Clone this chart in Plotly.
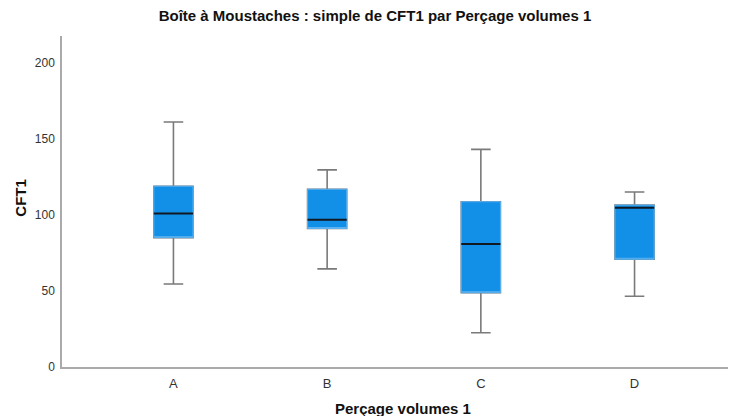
import plotly.graph_objects as go

categories = ["A", "B", "C", "D"]
lower = [54.5, 64.5, 22.5, 46.5]
q1 = [85, 91, 48.8, 70.8]
median = [100.8, 96.8, 80.8, 104.6]
q3 = [118.8, 116.8, 108.6, 106.4]
upper = [161, 129.5, 143, 115]

y_ticks = [0, 50, 100, 150, 200]

FILL = "#1290e8"
EDGE = "#5cb2f0"
WHISK = "#7a7a7a"
MED = "#111822"
BW = 0.255

# the page body has an 8px margin: figure coords = reference coords - 8
OFF = 8
W, H = 736 - OFF, 416 - OFF
L, T, B = 62.3 - OFF, 36 - OFF, H - (367 - OFF)
PW, PH = W - L, H - T - B

fig = go.Figure()
# whiskers + caps
fig.add_trace(go.Box(
    x=categories, q1=q1, median=median, q3=q3,
    lowerfence=lower, upperfence=upper,
    fillcolor=FILL, line=dict(color=WHISK, width=1.6),
    width=BW, whiskerwidth=0.5, boxpoints=False, hoverinfo="skip",
    showlegend=False,
))
# box body with light-blue edge
fig.add_trace(go.Box(
    x=categories, q1=q1, median=q1, q3=q3,
    lowerfence=q1, upperfence=q3,
    fillcolor=FILL, line=dict(color=EDGE, width=1),
    width=BW, whiskerwidth=0, boxpoints=False, hoverinfo="skip",
    showlegend=False,
))
# median line
fig.add_trace(go.Box(
    x=categories, q1=median, median=median, q3=median,
    lowerfence=median, upperfence=median,
    fillcolor="rgba(0,0,0,0)", line=dict(color=MED, width=2),
    width=BW, whiskerwidth=0, boxpoints=False, hoverinfo="skip",
    showlegend=False,
))

fig.update_layout(
    width=W, height=H,
    margin=dict(l=L, r=0, t=T, b=B, autoexpand=False),
    paper_bgcolor="white", plot_bgcolor="white",
    boxmode="overlay",
    font=dict(family="Liberation Sans, Arial, sans-serif", color="#222"),
    title=dict(
        text="<b>Boîte à Moustaches : simple de CFT1 par Perçage volumes 1</b>",
        x=(375 - OFF) / W, xanchor="center", xref="container",
        y=1 - (15.5 - OFF) / H, yanchor="middle", yref="container",
        font=dict(size=15, color="#111"),
    ),
    xaxis=dict(
        type="category", range=[-0.725, 3.66], automargin=False,
        showline=True, linecolor="#aaaaaa", linewidth=1.5,
        showgrid=False, zeroline=False, ticks="", ticklabelstandoff=4,
        tickfont=dict(size=13, color="#333"),
    ),
    yaxis=dict(
        range=[0, 217.5], tickvals=y_ticks, automargin=False,
        showline=True, linecolor="#aaaaaa", linewidth=1.5,
        showgrid=False, zeroline=False, ticks="", ticklabelstandoff=3,
        tickfont=dict(size=12, color="#333"),
    ),
    annotations=[
        dict(text="<b>Perçage volumes 1</b>", xref="paper", yref="paper",
             x=(403 - OFF - L) / PW, y=-(408 - 367) / PH, xanchor="center", yanchor="middle",
             showarrow=False, font=dict(size=15, color="#111")),
        dict(text="<b>CFT1</b>", xref="paper", yref="paper",
             x=-(62.3 - 20) / PW, y=(367 - 198) / PH, xanchor="center", yanchor="middle",
             textangle=-90, showarrow=False, font=dict(size=15, color="#111")),
    ],
)

fig.write_html("out.html", post_script="document.body.style.overflow='hidden';")
